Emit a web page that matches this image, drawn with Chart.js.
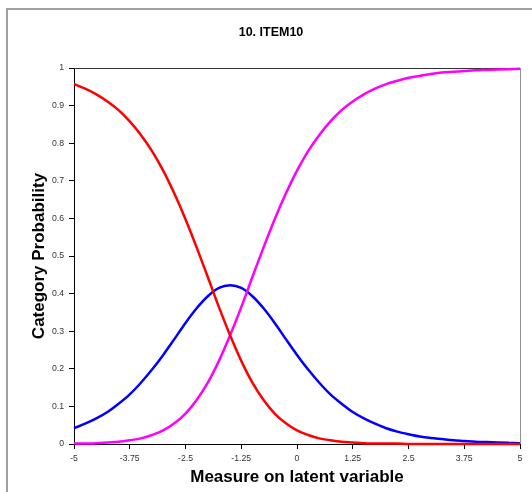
<!DOCTYPE html>
<html>
<head>
<meta charset="utf-8">
<script src="https://cdn.jsdelivr.net/npm/chart.js@4/dist/chart.umd.min.js"></script>
<style>
html,body{margin:0;padding:0;background:#fff;overflow:hidden;}
canvas{display:block;}
</style>
</head>
<body>
<canvas id="c" width="532" height="492"></canvas>
<script>
const chartTitle = "10. ITEM10";
const xTitle = "Measure on latent variable";
const yTitle = "Category Probability";
const xTickValues = [-5, -3.75, -2.5, -1.25, 0, 1.25, 2.5, 3.75, 5];
const xTickLabels = ["-5", "-3.75", "-2.5", "-1.25", "0", "1.25", "2.5", "3.75", "5"];
const yTickValues = [0, 0.1, 0.2, 0.3, 0.4, 0.5, 0.6, 0.7, 0.8, 0.9, 1];
const yTickLabels = ["0", "0.1", "0.2", "0.3", "0.4", "0.5", "0.6", "0.7", "0.8", "0.9", "1"];

const measures = [-5, -4.75, -4.5, -4.25, -4, -3.75, -3.5, -3.25, -3, -2.75, -2.5, -2.25, -2, -1.75, -1.5, -1.25, -1, -0.75, -0.5, -0.25, 0, 0.25, 0.5, 0.75, 1, 1.25, 1.5, 1.75, 2, 2.25, 2.5, 2.75, 3, 3.25, 3.5, 3.75, 4, 4.25, 4.5, 4.75, 5];
const category0 = [0.957, 0.945, 0.930, 0.911, 0.888, 0.858, 0.822, 0.779, 0.727, 0.666, 0.598, 0.523, 0.444, 0.364, 0.289, 0.221, 0.163, 0.117, 0.081, 0.055, 0.036, 0.024, 0.015, 0.010, 0.006, 0.004, 0.002, 0.001, 0.001, 0.001, 0.000, 0.000, 0.000, 0.000, 0.000, 0.000, 0.000, 0.000, 0.000, 0.000, 0.000];
const category1 = [0.042, 0.054, 0.068, 0.085, 0.107, 0.132, 0.163, 0.198, 0.237, 0.279, 0.322, 0.361, 0.393, 0.415, 0.422, 0.415, 0.393, 0.361, 0.322, 0.279, 0.237, 0.198, 0.163, 0.132, 0.107, 0.085, 0.068, 0.054, 0.042, 0.033, 0.026, 0.020, 0.016, 0.013, 0.010, 0.008, 0.006, 0.005, 0.004, 0.003, 0.002];
const category2 = [0.001, 0.001, 0.002, 0.004, 0.006, 0.010, 0.015, 0.024, 0.036, 0.055, 0.081, 0.117, 0.163, 0.221, 0.289, 0.364, 0.444, 0.523, 0.598, 0.666, 0.727, 0.779, 0.822, 0.858, 0.888, 0.911, 0.930, 0.945, 0.957, 0.966, 0.974, 0.979, 0.984, 0.988, 0.990, 0.992, 0.994, 0.995, 0.996, 0.997, 0.998];

const toPoints = arr => measures.map((m, i) => ({x: m, y: arr[i]}));

const framePlugin = {
  id: 'frame',
  beforeDraw(chart) {
    const ctx = chart.ctx;
    ctx.save();
    ctx.fillStyle = '#fff';
    ctx.fillRect(0, 0, chart.width, chart.height);
    ctx.strokeStyle = '#a0a0a0';
    ctx.lineWidth = 2;
    ctx.strokeRect(7, 9, 700, 700);
    ctx.restore();
  },
  beforeDatasetsDraw(chart) {
    const {ctx, chartArea: a} = chart;
    ctx.save();
    ctx.lineWidth = 1;
    ctx.strokeStyle = '#333';
    ctx.beginPath();
    ctx.moveTo(a.left, a.top + 0.5);
    ctx.lineTo(a.right, a.top + 0.5);
    ctx.stroke();
    ctx.strokeStyle = '#909090';
    ctx.beginPath();
    ctx.moveTo(a.right + 0.5, a.top);
    ctx.lineTo(a.right + 0.5, a.bottom);
    ctx.stroke();
    ctx.restore();
  },
  afterDraw(chart) {
    const ctx = chart.ctx;
    ctx.save();
    ctx.fillStyle = '#000';
    ctx.font = 'bold 12.5px "Liberation Sans", Arial, sans-serif';
    ctx.textAlign = 'center';
    ctx.textBaseline = 'middle';
    ctx.fillText(chartTitle, 271, 33);
    ctx.restore();
  }
};

new Chart(document.getElementById('c'), {
  type: 'line',
  data: {
    datasets: [
      {label: 'Category 0', data: toPoints(category0), borderColor: '#ff0000', borderWidth: 2.5, pointRadius: 0, cubicInterpolationMode: 'monotone', fill: false, clip: false},
      {label: 'Category 2', data: toPoints(category2), borderColor: '#ff00ff', borderWidth: 2.5, pointRadius: 0, cubicInterpolationMode: 'monotone', fill: false, clip: false},
      {label: 'Category 1', data: toPoints(category1), borderColor: '#0000ff', borderWidth: 2.5, pointRadius: 0, cubicInterpolationMode: 'monotone', fill: false, clip: false}
    ]
  },
  plugins: [framePlugin],
  options: {
    responsive: false,
    animation: false,
    devicePixelRatio: 1,
    layout: {padding: {top: 68, left: 0, right: 12, bottom: 0}},
    plugins: {legend: {display: false}, title: {display: false}, tooltip: {enabled: false}},
    scales: {
      x: {
        type: 'linear',
        min: -5, max: 5,
        afterBuildTicks: s => { s.ticks = xTickValues.map(v => ({value: v})); },
        afterFit: s => { s.height = 48; },
        ticks: {
          callback: (v) => { const i = xTickValues.indexOf(v); return i >= 0 ? xTickLabels[i] : ''; },
          font: {family: '"Liberation Sans", Arial, sans-serif', size: 8.7},
          color: '#333',
          padding: 4,
          maxRotation: 0,
          autoSkip: false
        },
        grid: {display: true, drawOnChartArea: false, drawTicks: true, tickLength: 5, tickColor: '#000', tickWidth: 1},
        border: {display: true, color: '#000', width: 1},
        title: {display: true, text: xTitle, color: '#000', font: {family: '"Liberation Sans", Arial, sans-serif', size: 17, weight: 'bold'}, padding: {top: 0, bottom: 4}}
      },
      y: {
        type: 'linear',
        min: 0, max: 1,
        afterBuildTicks: s => { s.ticks = yTickValues.map(v => ({value: v})); },
        afterFit: s => { s.width = 74; },
        ticks: {
          callback: (v) => { const i = yTickValues.findIndex(t => Math.abs(t - v) < 1e-9); return i >= 0 ? yTickLabels[i] : ''; },
          font: {family: '"Liberation Sans", Arial, sans-serif', size: 8.7},
          color: '#333',
          padding: 5,
          autoSkip: false
        },
        grid: {display: true, drawOnChartArea: false, drawTicks: true, tickLength: 5, tickColor: '#000', tickWidth: 1},
        border: {display: true, color: '#000', width: 1},
        title: {display: true, text: yTitle, color: '#000', font: {family: '"Liberation Sans", Arial, sans-serif', size: 17, weight: 'bold'}, padding: {top: 29, bottom: 0}}
      }
    }
  }
});
</script>
</body>
</html>
